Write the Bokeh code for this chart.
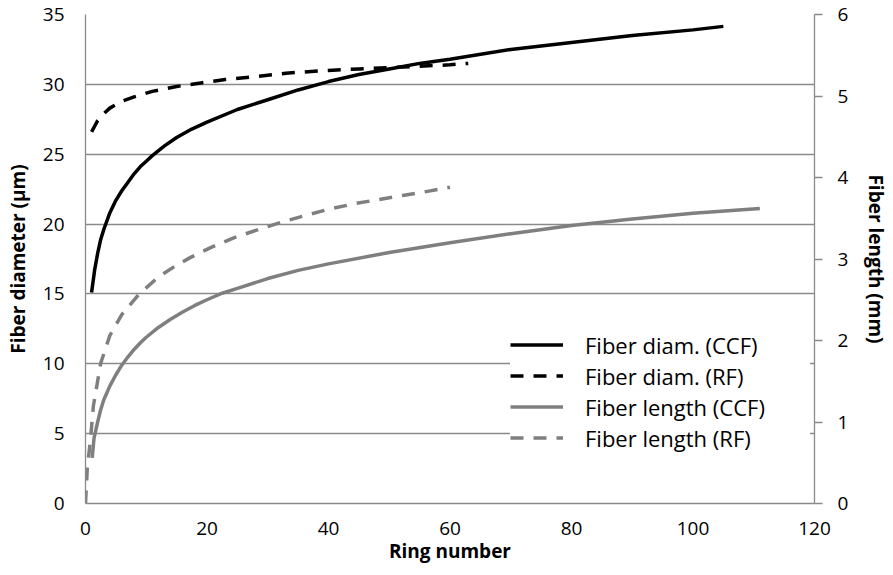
from bokeh.plotting import figure
from bokeh.models import Range1d, LinearAxis, FixedTicker, Legend, LegendItem
from bokeh.embed import file_html
from bokeh.resources import INLINE

# Fiber diameter (CCF), left axis (µm)
diam_ccf_ring = [1, 1.5, 2, 2.5, 3, 3.5, 4, 5, 6, 7, 8, 9, 10, 11, 13, 15, 17.5, 20, 25, 30, 35, 40,
                 45, 50, 55, 60, 70, 80, 90, 100, 105]
diam_ccf_val = [15.1, 16.7, 17.9, 18.9, 19.6, 20.2, 20.8, 21.7, 22.4, 23.0, 23.6, 24.1, 24.5, 24.9,
                25.6, 26.2, 26.8, 27.3, 28.2, 28.9, 29.6, 30.2, 30.7, 31.1, 31.5, 31.8, 32.5, 33.0,
                33.5, 33.9, 34.15]

# Fiber diameter (RF), left axis (µm)
diam_rf_ring = [1, 1.5, 2, 3, 4, 6, 8, 11, 15, 19, 23, 28, 33, 40, 45, 50, 55, 60, 63]
diam_rf_val = [26.6, 27.0, 27.4, 27.9, 28.3, 28.8, 29.1, 29.5, 29.85, 30.1, 30.35, 30.55, 30.8, 31.0,
               31.1, 31.2, 31.3, 31.4, 31.5]

# Fiber length (CCF), right axis (mm)
len_ccf_ring = [1.1, 1.4, 2, 2.5, 3, 4, 5, 6, 7, 8, 9, 10, 12, 14, 16, 18, 20, 22.5, 25, 30, 35, 40,
                50, 60, 70, 80, 90, 100, 111]
len_ccf_val = [0.56, 0.8, 1.0, 1.15, 1.27, 1.44, 1.58, 1.7, 1.8, 1.89, 1.97, 2.04, 2.16, 2.26, 2.35,
               2.43, 2.5, 2.58, 2.64, 2.76, 2.86, 2.94, 3.08, 3.2, 3.31, 3.41, 3.49, 3.56, 3.62]

# Fiber length (RF), right axis (mm)
len_rf_ring = [0, 0.3, 0.8, 1.3, 2.5, 4, 6, 8.7, 12, 14.5, 17.3, 20.6, 24.4, 28.8, 32.6, 37, 40,
               44.4, 48.3, 52.2, 56.3, 60]
len_rf_val = [0.0, 0.44, 0.77, 1.2, 1.72, 2.06, 2.32, 2.56, 2.78, 2.9, 3.02, 3.14, 3.26, 3.37,
              3.46, 3.55, 3.61, 3.68, 3.73, 3.78, 3.83, 3.88]

x_ticks = [0, 20, 40, 60, 80, 100, 120]
left_ticks = [0, 5, 10, 15, 20, 25, 30, 35]
right_ticks = [0, 1, 2, 3, 4, 5, 6]

FONT = "Open Sans"
GRAY = "#7f7f7f"
AXGRAY = "#8a8a8a"

p = figure(frame_width=729, frame_height=489, output_backend="svg", toolbar_location=None,
           x_range=Range1d(0, 120), y_range=Range1d(0, 35),
           min_border_left=85, min_border_right=10, min_border_top=14, min_border_bottom=72)
p.outline_line_color = None
p.extra_y_ranges = {"len": Range1d(0, 6)}

r1 = p.line(diam_ccf_ring, diam_ccf_val, line_color="black", line_width=3.5)
r2 = p.line(diam_rf_ring, diam_rf_val, line_color="black", line_width=3.5, line_dash="13 10")
r3 = p.line(len_ccf_ring, len_ccf_val, line_color=GRAY, line_width=3.5, y_range_name="len")
r4 = p.line(len_rf_ring, len_rf_val, line_color=GRAY, line_width=3.5, line_dash="13 10",
            y_range_name="len")

p.xgrid.visible = False
p.ygrid.ticker = FixedTicker(ticks=left_ticks)
p.ygrid.grid_line_color = AXGRAY
p.ygrid.grid_line_width = 1.3

def style(ax):
    ax.axis_line_color = AXGRAY
    ax.axis_line_width = 1.3
    ax.major_tick_line_color = AXGRAY
    ax.major_tick_line_width = 1.3
    ax.minor_tick_line_color = None
    ax.major_label_text_font = FONT
    ax.major_label_text_font_size = "19px"
    ax.major_label_text_color = "black"
    ax.axis_label_text_font = FONT
    ax.axis_label_text_font_size = "19px"
    ax.axis_label_text_font_style = "bold"
    ax.axis_label_text_color = "black"

xa = p.xaxis[0]
xa.ticker = FixedTicker(ticks=x_ticks)
xa.axis_label = "Ring number"
style(xa)
xa.major_tick_out = 0
xa.major_tick_in = 0
xa.major_label_standoff = 18
xa.axis_label_standoff = 0

ya = p.yaxis[0]
ya.ticker = FixedTicker(ticks=left_ticks)
ya.axis_label = "Fiber diameter (µm)"
style(ya)
ya.major_tick_out = 0
ya.major_tick_in = 0
ya.major_label_standoff = 21
ya.axis_label_standoff = 9

ra = LinearAxis(y_range_name="len", ticker=FixedTicker(ticks=right_ticks), axis_label="Fiber length (mm)")
style(ra)
ra.major_tick_out = 8
ra.major_tick_in = 0
ra.major_label_standoff = 15
ra.axis_label_standoff = 12
p.add_layout(ra, "right")

legend = Legend(items=[
    LegendItem(label="Fiber diam. (CCF)", renderers=[r1]),
    LegendItem(label="Fiber diam. (RF)", renderers=[r2]),
    LegendItem(label="Fiber length (CCF)", renderers=[r3]),
    LegendItem(label="Fiber length (RF)", renderers=[r4]),
], location=(425, 50))
legend.padding = 0
legend.margin = 0
legend.spacing = 0
legend.border_line_color = None
legend.background_fill_color = "white"
legend.background_fill_alpha = 1
legend.glyph_width = 53
legend.glyph_height = 31
legend.label_height = 31
legend.label_standoff = 22
legend.label_width = 225
legend.label_text_font = FONT
legend.label_text_font_size = "22px"
legend.label_text_color = "black"
p.add_layout(legend, "center")

open("out.html", "w").write(file_html(p, INLINE))
